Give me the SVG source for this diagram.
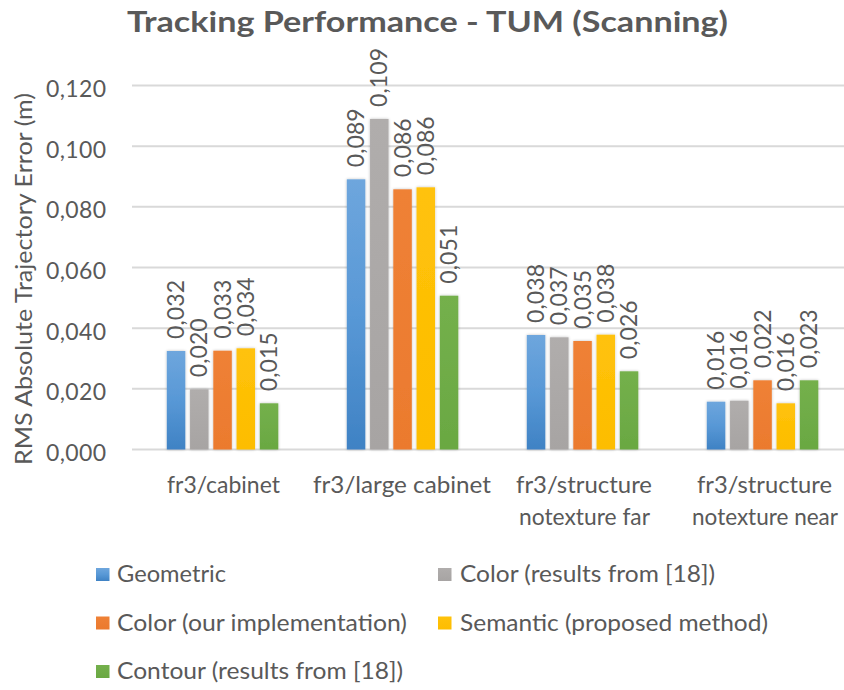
<svg xmlns="http://www.w3.org/2000/svg" width="844" height="690" viewBox="0 0 844 690">
<defs>
<linearGradient id="gBlue" x1="0" y1="0" x2="0" y2="1"><stop offset="0" stop-color="#6ea6dd"/><stop offset="0.5" stop-color="#5898d6"/><stop offset="1" stop-color="#3f82c4"/></linearGradient>
<linearGradient id="gGray" x1="0" y1="0" x2="0" y2="1"><stop offset="0" stop-color="#b0adac"/><stop offset="1" stop-color="#a7a4a3"/></linearGradient>
<linearGradient id="gOrange" x1="0" y1="0" x2="0" y2="1"><stop offset="0" stop-color="#ef8136"/><stop offset="1" stop-color="#eb7a2e"/></linearGradient>
<linearGradient id="gYellow" x1="0" y1="0" x2="0" y2="1"><stop offset="0" stop-color="#ffc20a"/><stop offset="1" stop-color="#fdbd00"/></linearGradient>
<linearGradient id="gGreen" x1="0" y1="0" x2="0" y2="1"><stop offset="0" stop-color="#74b04c"/><stop offset="1" stop-color="#6aa842"/></linearGradient>
<filter id="sh" x="-30%" y="-10%" width="160%" height="120%"><feGaussianBlur in="SourceAlpha" stdDeviation="1.5"/><feOffset dx="0" dy="0"/><feComponentTransfer><feFuncA type="linear" slope="0.25"/></feComponentTransfer><feMerge><feMergeNode/><feMergeNode in="SourceGraphic"/></feMerge></filter>
</defs>
<style>
text{font-family:Lato,"Open Sans","Liberation Sans",sans-serif;fill:#595959;}
.title{font-size:29px;font-weight:bold;}
.tick{font-size:23px;text-anchor:end;}
.lbl{font-size:23px;}
.cat{font-size:23px;text-anchor:middle;}
.leg{font-size:23px;}
.grid{stroke:#d9d9d9;stroke-width:2;fill:none;}
.b{fill:url(#gBlue);} .g{fill:url(#gGray);} .o{fill:url(#gOrange);} .y{fill:url(#gYellow);} .gr{fill:url(#gGreen);}
</style>
<rect width="844" height="690" fill="#ffffff"/>
<text id="title" class="title" x="427.5" y="32" text-anchor="middle" textLength="601" lengthAdjust="spacingAndGlyphs">Tracking Performance - TUM (Scanning)</text>
<g id="gridlines">
<line class="grid" x1="132" y1="85.5" x2="844" y2="85.5"/>
<line class="grid" x1="132" y1="146.2" x2="844" y2="146.2"/>
<line class="grid" x1="132" y1="206.8" x2="844" y2="206.8"/>
<line class="grid" x1="132" y1="267.5" x2="844" y2="267.5"/>
<line class="grid" x1="132" y1="328.2" x2="844" y2="328.2"/>
<line class="grid" x1="132" y1="388.8" x2="844" y2="388.8"/>
<line class="grid" x1="132" y1="449.5" x2="844" y2="449.5"/>
</g>
<g id="yaxis">
<text class="tick" x="106" y="97" textLength="60" lengthAdjust="spacing">0,120</text>
<text class="tick" x="106" y="157.7" textLength="60" lengthAdjust="spacing">0,100</text>
<text class="tick" x="106" y="218.3" textLength="60" lengthAdjust="spacing">0,080</text>
<text class="tick" x="106" y="279" textLength="60" lengthAdjust="spacing">0,060</text>
<text class="tick" x="106" y="339.7" textLength="60" lengthAdjust="spacing">0,040</text>
<text class="tick" x="106" y="400.3" textLength="60" lengthAdjust="spacing">0,020</text>
<text class="tick" x="106" y="461" textLength="60" lengthAdjust="spacing">0,000</text>
<text id="ytitle" class="lbl" transform="translate(32,279) rotate(-90)" text-anchor="middle" textLength="372" lengthAdjust="spacingAndGlyphs">RMS Absolute Trajectory Error (m)</text>
</g>
<g id="bars" filter="url(#sh)">
<rect class="b" x="166.8" y="351" width="18.5" height="98.5"/>
<rect class="g" x="190.05" y="389.3" width="18.5" height="60.2"/>
<rect class="o" x="213.3" y="350.7" width="18.5" height="98.8"/>
<rect class="y" x="236.55" y="348.3" width="18.5" height="101.2"/>
<rect class="gr" x="259.8" y="403.3" width="18.5" height="46.2"/>
<rect class="b" x="346.8" y="179.3" width="18.5" height="270.2"/>
<rect class="g" x="370.05" y="119" width="18.5" height="330.5"/>
<rect class="o" x="393.3" y="189.3" width="18.5" height="260.2"/>
<rect class="y" x="416.55" y="187.3" width="18.5" height="262.2"/>
<rect class="gr" x="439.8" y="295.7" width="18.5" height="153.8"/>
<rect class="b" x="526.8" y="335" width="18.5" height="114.5"/>
<rect class="g" x="550.05" y="337.3" width="18.5" height="112.2"/>
<rect class="o" x="573.3" y="341" width="18.5" height="108.5"/>
<rect class="y" x="596.55" y="334.7" width="18.5" height="114.8"/>
<rect class="gr" x="619.8" y="371.3" width="18.5" height="78.2"/>
<rect class="b" x="706.8" y="401.7" width="18.5" height="47.8"/>
<rect class="g" x="730.05" y="400.7" width="18.5" height="48.8"/>
<rect class="o" x="753.3" y="380.3" width="18.5" height="69.2"/>
<rect class="y" x="776.55" y="403.3" width="18.5" height="46.2"/>
<rect class="gr" x="799.8" y="380.3" width="18.5" height="69.2"/>
</g>
<g id="datalabels">
<text class="lbl" transform="translate(184,339) rotate(-90)" textLength="59" lengthAdjust="spacing">0,032</text>
<text class="lbl" transform="translate(207.3,377.3) rotate(-90)" textLength="59" lengthAdjust="spacing">0,020</text>
<text class="lbl" transform="translate(230.5,338.7) rotate(-90)" textLength="59" lengthAdjust="spacing">0,033</text>
<text class="lbl" transform="translate(253.8,336.3) rotate(-90)" textLength="59" lengthAdjust="spacing">0,034</text>
<text class="lbl" transform="translate(277,391.3) rotate(-90)" textLength="59" lengthAdjust="spacing">0,015</text>
<text class="lbl" transform="translate(364,167.3) rotate(-90)" textLength="59" lengthAdjust="spacing">0,089</text>
<text class="lbl" transform="translate(387.3,107) rotate(-90)" textLength="59" lengthAdjust="spacing">0,109</text>
<text class="lbl" transform="translate(410.5,177.3) rotate(-90)" textLength="59" lengthAdjust="spacing">0,086</text>
<text class="lbl" transform="translate(433.8,175.3) rotate(-90)" textLength="59" lengthAdjust="spacing">0,086</text>
<text class="lbl" transform="translate(457,283.7) rotate(-90)" textLength="59" lengthAdjust="spacing">0,051</text>
<text class="lbl" transform="translate(544,323) rotate(-90)" textLength="59" lengthAdjust="spacing">0,038</text>
<text class="lbl" transform="translate(567.3,325.3) rotate(-90)" textLength="59" lengthAdjust="spacing">0,037</text>
<text class="lbl" transform="translate(590.5,329) rotate(-90)" textLength="59" lengthAdjust="spacing">0,035</text>
<text class="lbl" transform="translate(613.8,322.7) rotate(-90)" textLength="59" lengthAdjust="spacing">0,038</text>
<text class="lbl" transform="translate(637,359.3) rotate(-90)" textLength="59" lengthAdjust="spacing">0,026</text>
<text class="lbl" transform="translate(724,389.7) rotate(-90)" textLength="59" lengthAdjust="spacing">0,016</text>
<text class="lbl" transform="translate(747.3,388.7) rotate(-90)" textLength="59" lengthAdjust="spacing">0,016</text>
<text class="lbl" transform="translate(770.5,368.3) rotate(-90)" textLength="59" lengthAdjust="spacing">0,022</text>
<text class="lbl" transform="translate(793.8,391.3) rotate(-90)" textLength="59" lengthAdjust="spacing">0,016</text>
<text class="lbl" transform="translate(817,368.3) rotate(-90)" textLength="59" lengthAdjust="spacing">0,023</text>
</g>
<g id="categories">
<text class="cat" x="223.5" y="493" textLength="113" lengthAdjust="spacingAndGlyphs">fr3/cabinet</text>
<text class="cat" x="402" y="493" textLength="178" lengthAdjust="spacingAndGlyphs">fr3/large cabinet</text>
<text class="cat" x="584" y="493" textLength="136" lengthAdjust="spacingAndGlyphs">fr3/structure</text>
<text class="cat" x="584.5" y="525" textLength="131" lengthAdjust="spacingAndGlyphs">notexture far</text>
<text class="cat" x="764.5" y="493" textLength="135" lengthAdjust="spacingAndGlyphs">fr3/structure</text>
<text class="cat" x="765" y="525" textLength="146" lengthAdjust="spacingAndGlyphs">notexture near</text>
</g>
<g id="legend">
<g id="leg-geometric"><rect class="b" x="96" y="568" width="13.5" height="13"/><text class="leg" x="117" y="582" textLength="109" lengthAdjust="spacingAndGlyphs">Geometric</text></g>
<g id="leg-color18"><rect class="g" x="438" y="568" width="13.5" height="13"/><text class="leg" x="460" y="582" textLength="255" lengthAdjust="spacingAndGlyphs">Color (results from [18])</text></g>
<g id="leg-colorours"><rect class="o" x="96" y="616.5" width="13.5" height="13"/><text class="leg" x="117" y="631" textLength="290" lengthAdjust="spacingAndGlyphs">Color (our implementation)</text></g>
<g id="leg-semantic"><rect class="y" x="438" y="616.5" width="13.5" height="13"/><text class="leg" x="460" y="631" textLength="308" lengthAdjust="spacingAndGlyphs">Semantic (proposed method)</text></g>
<g id="leg-contour"><rect class="gr" x="96" y="665" width="13.5" height="13"/><text class="leg" x="117" y="679" textLength="286" lengthAdjust="spacingAndGlyphs">Contour (results from [18])</text></g>
</g>
</svg>
